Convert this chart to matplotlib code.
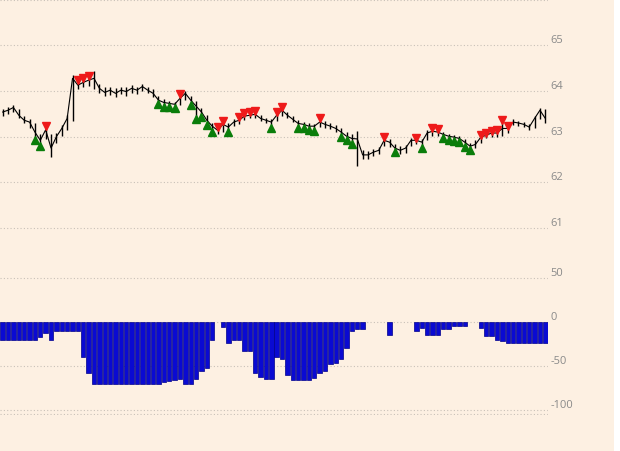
import numpy as np
import matplotlib
matplotlib.use('Agg')
import matplotlib.pyplot as plt

# price bars (close / high / low), one per period
close = [63.54, 63.58, 63.64, 63.47, 63.36, 63.32, 63.10, 62.92, 63.15, 62.75,
         63.00, 63.18, 63.40, 64.28, 64.13, 64.19, 64.24, 64.28, 64.06, 63.97,
         64.02, 63.95, 64.02, 63.99, 64.06, 64.02, 64.10, 64.02, 63.95, 63.80,
         63.75, 63.73, 63.71, 63.84, 63.95, 63.80, 63.67, 63.54, 63.36, 63.23,
         63.14, 63.27, 63.21, 63.32, 63.36, 63.45, 63.47, 63.49, 63.40, 63.36,
         63.32, 63.47, 63.58, 63.47, 63.38, 63.29, 63.27, 63.23, 63.23, 63.32,
         63.27, 63.23, 63.18, 63.10, 63.01, 62.96, 62.95, 62.60, 62.60, 62.66,
         62.70, 62.92, 62.88, 62.75, 62.70, 62.75, 62.92, 62.92, 62.88, 63.08,
         63.12, 63.10, 63.05, 63.01, 62.99, 62.96, 62.88, 62.79, 62.83, 62.99,
         63.03, 63.08, 63.08, 63.18, 63.18, 63.32, 63.30, 63.27, 63.21, 63.40,
         63.58, 63.40]
high = [63.60, 63.64, 63.70, 63.60, 63.46, 63.38, 63.30, 63.05, 63.22, 63.05,
        63.08, 63.25, 63.48, 64.35, 64.22, 64.26, 64.32, 64.45, 64.16, 64.08,
        64.10, 64.06, 64.10, 64.08, 64.14, 64.10, 64.16, 64.10, 64.04, 63.90,
        63.82, 63.78, 63.76, 63.92, 64.00, 63.90, 63.78, 63.62, 63.48, 63.30,
        63.20, 63.32, 63.30, 63.38, 63.42, 63.50, 63.52, 63.54, 63.48, 63.42,
        63.38, 63.52, 63.62, 63.55, 63.45, 63.36, 63.32, 63.30, 63.28, 63.38,
        63.34, 63.30, 63.25, 63.18, 63.10, 63.05, 63.12, 62.70, 62.68, 62.72,
        62.78, 62.97, 62.94, 62.84, 62.80, 62.82, 62.98, 62.96, 62.94, 63.15,
        63.16, 63.14, 63.10, 63.06, 63.04, 63.02, 62.95, 62.86, 62.92, 63.02,
        63.06, 63.10, 63.12, 63.35, 63.22, 63.38, 63.34, 63.32, 63.28, 63.46,
        63.62, 63.60]
low = [63.46, 63.50, 63.55, 63.42, 63.30, 63.18, 62.95, 62.82, 62.95, 62.55,
       62.85, 63.02, 63.15, 63.35, 64.05, 64.08, 64.12, 64.05, 63.95, 63.90,
       63.92, 63.88, 63.93, 63.90, 63.96, 63.94, 64.00, 63.95, 63.86, 63.74,
       63.68, 63.66, 63.64, 63.70, 63.80, 63.72, 63.40, 63.45, 63.28, 63.12,
       63.05, 63.10, 63.12, 63.24, 63.28, 63.36, 63.40, 63.42, 63.34, 63.30,
       63.20, 63.34, 63.45, 63.40, 63.32, 63.22, 63.20, 63.16, 63.14, 63.22,
       63.20, 63.16, 63.10, 63.02, 62.94, 62.86, 62.35, 62.50, 62.52, 62.58,
       62.62, 62.80, 62.78, 62.68, 62.62, 62.65, 62.80, 62.84, 62.78, 62.92,
       63.02, 63.02, 62.98, 62.94, 62.92, 62.90, 62.80, 62.72, 62.76, 62.86,
       62.96, 63.00, 63.00, 63.02, 63.08, 63.25, 63.24, 63.22, 63.15, 63.20,
       63.38, 63.30]

# signal positions
sell_idx = [8, 14, 15, 16, 33, 40, 41, 44, 45, 46, 47, 51, 52, 59, 71, 77, 80, 81,
            89, 90, 91, 92, 93, 94]
buy_idx = [6, 7, 29, 30, 31, 32, 35, 36, 37, 38, 39, 42, 50, 55, 56, 57, 58,
           63, 64, 65, 73, 78, 82, 83, 84, 85, 86, 87]

# lower indicator
osc = [-20, -20, -20, -20, -20, -20, -20, -17, -12, -20,
       -10, -10, -10, -10, -10, -40, -58, -70, -70, -70,
       -70, -70, -70, -70, -70, -70, -70, -70, -70, -70,
       -68, -67, -66, -65, -70, -70, -65, -56, -52, -20,
       0, -6, -24, -20, -20, -33, -33, -58, -62, -65,
       -65, -40, -42, -60, -66, -66, -66, -66, -64, -58,
       -56, -48, -47, -42, -29, -10, -8, -8, 0, 0,
       0, 0, -15, 0, 0, 0, 0, -10, -7, -15,
       -15, -15, -8, -8, -5, -5, -5, 0, 0, -7,
       -16, -16, -20, -22, -24, -24, -24, -24, -24, -24,
       -24, -24]

bg = '#fdf0e2'
grid_kw = dict(color='#c9c1b8', linestyle=(0, (1, 2)), linewidth=0.8)
lab_kw = dict(fontsize=8, color='#8a8a8a', family=['Open Sans', 'DejaVu Sans'])

fig = plt.figure(figsize=(6.2, 4.52), dpi=100, facecolor=bg)
ax1 = fig.add_axes([0, (452 - 250) / 452, 548 / 620, 250 / 452])
ax2 = fig.add_axes([0, (452 - 416) / 452, 548 / 620, 154 / 452], sharex=ax1)

x = np.arange(len(close))
hi = np.array(high)
lo = np.array(low)

for ax in (ax1, ax2):
    ax.set_facecolor(bg)
    for s in ax.spines.values():
        s.set_visible(False)
    ax.yaxis.tick_right()
    ax.tick_params(axis='y', length=0, pad=2)
    ax.tick_params(axis='x', length=0, labelbottom=False)

# price panel
for v in [61, 62, 63, 64, 65, 66]:
    ax1.axhline(v, zorder=0, **grid_kw)
ax1.vlines(x, lo, hi, color='black', linewidth=1.0, zorder=2)
ax1.plot(x, close, color='black', linewidth=0.8, zorder=2)
ax1.plot(x[sell_idx], hi[sell_idx] + 0.02, linestyle='none', marker='v',
         markersize=5.5, color='#ee1a1a', zorder=3)
ax1.plot(x[buy_idx], lo[buy_idx] - 0.02, linestyle='none', marker='^',
         markersize=5.5, color='#0a7d0a', zorder=3)
ax1.set_ylim(66 - 250 / 45.75, 66.02)
ax1.set_yticks([61, 62, 63, 64, 65])
ax1.set_yticklabels(['61', '62', '63', '64', '65'], **lab_kw)

# indicator panel
for v in [50, 0, -50, -100, -105]:
    ax2.axhline(v, zorder=0, **grid_kw)
osc_arr = np.array(osc, dtype=float)
keep = osc_arr != 0
ax2.bar(x[keep], osc_arr[keep], width=0.82, color='#0a0ad2', edgecolor='#00008a',
        linewidth=0.5, zorder=2)
ax2.set_ylim(-(416 - 323) / 0.88, (323 - 262) / 0.88)
ax2.set_yticks([50, 0, -50, -100])
ax2.set_yticklabels(['50', '0', '-50', '-100'], **lab_kw)

ax1.set_xlim(-0.5, 101.5)

for ax in (ax1, ax2):
    for t in ax.get_yticklabels():
        t.set_va('bottom')

fig.patches.append(plt.Rectangle((614 / 620, 0), 6 / 620, 1, transform=fig.transFigure,
                                 facecolor='white', edgecolor='none'))

fig.savefig('out.png', dpi=100, facecolor=bg)
